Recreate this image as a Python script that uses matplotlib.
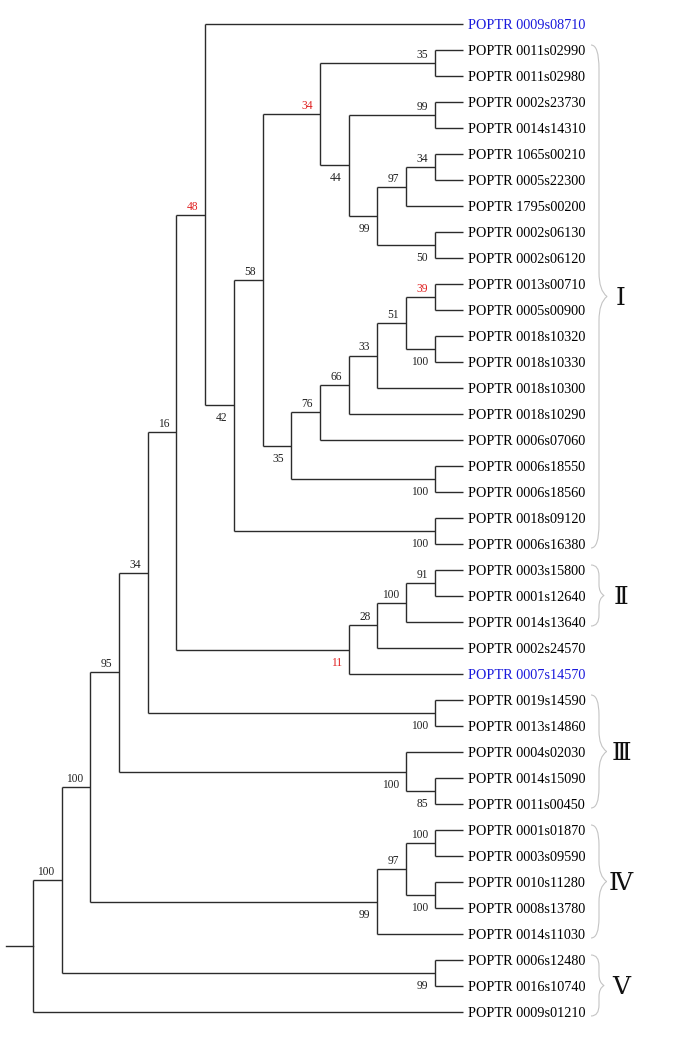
import matplotlib.pyplot as plt
from matplotlib.path import Path
from matplotlib.patches import PathPatch

# subtrees in newick form, numbers are bootstrap values, * = red value
sub_U = "((0013s00710,0005s00900)39*,(0018s10320,0018s10330)100)51"
sub_N = "((((" + sub_U + ",0018s10300)33,0018s10290)66,0006s07060)76,(0006s18550,0006s18560)100)35"
sub_M = ("((0011s02990,0011s02980)35,((0002s23730,0014s14310)99,"
         "(((1065s00210,0005s22300)34,1795s00200)97,(0002s06130,0002s06120)50)99)44)34*")
sub_K = "((" + sub_M + "," + sub_N + ")58,(0018s09120,0006s16380)100)42"
sub_G = "((((0003s15800,0001s12640)91,0014s13640)100,0002s24570)28,0007s14570)11*"
sub_E = "((0009s08710," + sub_K + ")48*," + sub_G + ")16"
sub_C = "((" + sub_E + ",(0019s14590,0013s14860)100)34,(0004s02030,(0014s15090,0011s00450)85)100)95"
sub_IV = "(((0001s01870,0003s09590)100,(0010s11280,0008s13780)100)97,0014s11030)99"
tree_str = "(((" + sub_C + "," + sub_IV + ")100,(0006s12480,0016s10740)99)100,0009s01210)"

blue_leaves = ["0009s08710", "0007s14570"]

# clade name, first leaf, last leaf
clade_names = ["Ⅰ", "Ⅱ", "Ⅲ", "Ⅳ", "Ⅴ"]
clade_first = ["0011s02990", "0003s15800", "0019s14590", "0001s01870", "0006s12480"]
clade_last = ["0006s16380", "0014s13640", "0011s00450", "0014s11030", "0009s01210"]


def parse(s, i=0):
    if s[i] == '(':
        kids = []
        i += 1
        while True:
            c, i = parse(s, i)
            kids.append(c)
            if s[i] == ',':
                i += 1
                continue
            i += 1
            break
        j = i
        while j < len(s) and s[j] not in ',)':
            j += 1
        return {'kids': kids, 'label': s[i:j]}, j
    j = i
    while j < len(s) and s[j] not in ',)':
        j += 1
    return {'kids': [], 'name': s[i:j]}, j


root, _ = parse(tree_str)

# layout (pixels)
Y0, DY = 24, 26.0
X_ROOT, X_TIP = 33, 463.5
leaves = []


def height(n):
    if not n['kids']:
        n['h'] = 0
    else:
        n['h'] = 1 + max(height(k) for k in n['kids'])
    return n['h']


def place_y(n):
    if not n['kids']:
        n['y'] = Y0 + DY * len(leaves)
        leaves.append(n)
    else:
        for k in n['kids']:
            place_y(k)
        n['y'] = (n['kids'][0]['y'] + n['kids'][-1]['y']) / 2


H = height(root)
place_y(root)
unit = (X_TIP - X_ROOT) / H


def xpos(n):
    return X_ROOT + unit * (H - n['h'])


fig = plt.figure(figsize=(6.85, 10.5), dpi=100)
ax = fig.add_axes([0, 0, 1, 1])
ax.set_xlim(0, 685)
ax.set_ylim(1050, 0)
ax.axis('off')

LC = '#2b2b2b'
LW = 1.0
serif = ['Liberation Serif', 'DejaVu Serif']


def draw(n):
    if not n['kids']:
        col = '#1a1adc' if n['name'] in blue_leaves else 'black'
        ax.text(xpos(n) + 4.5, n['y'] + 5, 'POPTR ' + n['name'], fontsize=10.3,
                family=serif, color=col, ha='left', va='baseline')
        return
    x = xpos(n)
    ax.plot([x, x], [n['kids'][0]['y'], n['kids'][-1]['y']], color=LC, lw=LW,
            solid_capstyle='butt')
    for idx, k in enumerate(n['kids']):
        ax.plot([x, xpos(k)], [k['y'], k['y']], color=LC, lw=LW, solid_capstyle='butt')
        if k['kids'] and k['label']:
            lab = k['label']
            red = lab.endswith('*')
            lab = lab.rstrip('*')
            ty = k['y'] - 5 if idx == 0 else k['y'] + 16
            ax.text(xpos(k) - 7, ty, lab, fontsize=8.3, family=serif,
                    color='#e02020' if red else '#222222', ha='right', va='baseline')
        draw(k)


draw(root)
# root stub
ax.plot([6, X_ROOT], [root['y'], root['y']], color=LC, lw=LW)

# clade braces
name_y = {l['name']: l['y'] for l in leaves}
for nm, a, b in zip(clade_names, clade_first, clade_last):
    top = name_y[a] - 5
    bot = name_y[b] + 4
    mid = (top + bot) / 2
    hgt = bot - top
    c = min(24, hgt * 0.18)
    x0 = 591
    xv = x0 + 8
    xt = xv + min(8, 2 + hgt * 0.05)
    verts = [(x0, top), (xv, top), (xv, top + c),
             (xv, mid - c), (xv, mid - c * 0.25), (xt, mid),
             (xv, mid + c * 0.25), (xv, mid + c),
             (xv, bot - c), (xv, bot), (x0, bot)]
    codes = [Path.MOVETO, Path.CURVE3, Path.CURVE3,
             Path.LINETO, Path.CURVE3, Path.CURVE3,
             Path.CURVE3, Path.CURVE3,
             Path.LINETO, Path.CURVE3, Path.CURVE3]
    ax.add_patch(PathPatch(Path(verts, codes), fill=False, edgecolor='#c4c4c4', lw=0.8))
    ax.text(621, mid + 8.5, nm, fontsize=18, family=serif, ha='center', va='baseline',
            color='#111111')

fig.savefig('out.png', dpi=100)
